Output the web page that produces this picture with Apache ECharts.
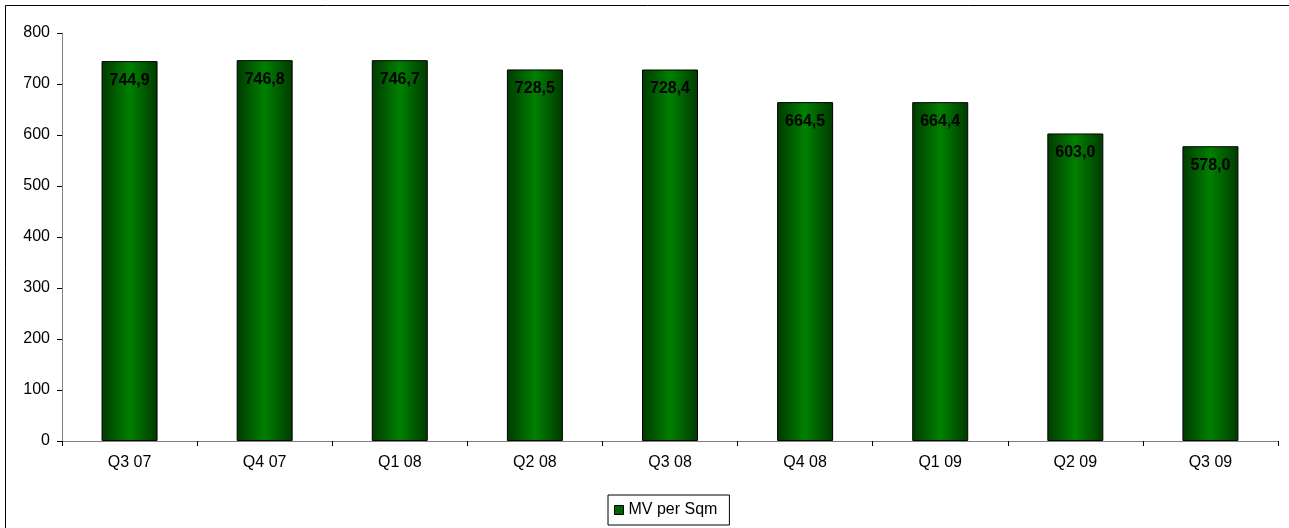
<!DOCTYPE html>
<html>
<head>
<meta charset="utf-8">
<script src="https://cdn.jsdelivr.net/npm/echarts@6/dist/echarts.min.js"></script>
<style>
  html, body { margin: 0; padding: 0; background: #fff; }
  #chart { width: 1289px; height: 528px; }
</style>
</head>
<body>
<div id="chart"></div>
<script>
// 数据
var categories = ["Q3 07", "Q4 07", "Q1 08", "Q2 08", "Q3 08", "Q4 08", "Q1 09", "Q2 09", "Q3 09"];
var mvPerSqm = [744.9, 746.8, 746.7, 728.5, 728.4, 664.5, 664.4, 603.0, 578.0];
var yTicks = { min: 0, max: 800, interval: 100 };

var myChart = echarts.init(document.getElementById("chart"));

var barGradient = new echarts.graphic.LinearGradient(0, 0, 1, 0, [
  { offset: 0, color: "#003a00" },
  { offset: 0.5, color: "#008000" },
  { offset: 1, color: "#003a00" }
]);

var option = {
  animation: false,
  textStyle: { fontFamily: "Liberation Sans, Arial, sans-serif" },
  graphic: [
    {
      type: "rect",
      shape: { x: 5.5, y: 5.5, width: 1400, height: 600 },
      style: { fill: "none", stroke: "#000", lineWidth: 1 },
      silent: true
    }
  ],
  grid: {
    left: 62,
    right: 11,
    top: 33,
    bottom: 87
  },
  legend: {
    bottom: 3,
    left: 608,
    padding: [7, 12, 7, 6],
    itemWidth: 9,
    itemHeight: 9,
    itemGap: 4,
    borderColor: "#000",
    borderWidth: 1,
    textStyle: { color: "#000", fontSize: 16 },
    data: [{ name: "MV per Sqm", icon: "rect", itemStyle: { color: "#006400", borderColor: "#000", borderWidth: 1 } }]
  },
  xAxis: {
    type: "category",
    data: categories,
    axisLine: { lineStyle: { color: "#808080", width: 1 } },
    axisTick: { show: true, alignWithLabel: false, length: 5, lineStyle: { color: "#000" } },
    axisLabel: { color: "#000", fontSize: 16, margin: 14 }
  },
  yAxis: {
    type: "value",
    min: yTicks.min,
    max: yTicks.max,
    interval: yTicks.interval,
    axisLine: { show: true, lineStyle: { color: "#808080", width: 1 } },
    axisTick: { show: true, length: 5, lineStyle: { color: "#000" } },
    axisLabel: { color: "#000", fontSize: 16, margin: 12 },
    splitLine: { show: false }
  },
  series: [
    {
      name: "MV per Sqm",
      type: "bar",
      barWidth: 56,
      data: mvPerSqm,
      itemStyle: {
        color: barGradient,
        borderColor: "#000",
        borderWidth: 1
      },
      label: {
        show: true,
        position: "insideTop",
        distance: 11,
        color: "#000",
        fontWeight: "bold",
        fontSize: 16,
        formatter: function (p) {
          return p.value.toFixed(1).replace(".", ",");
        }
      }
    }
  ]
};

myChart.setOption(option, true);
</script>
</body>
</html>
